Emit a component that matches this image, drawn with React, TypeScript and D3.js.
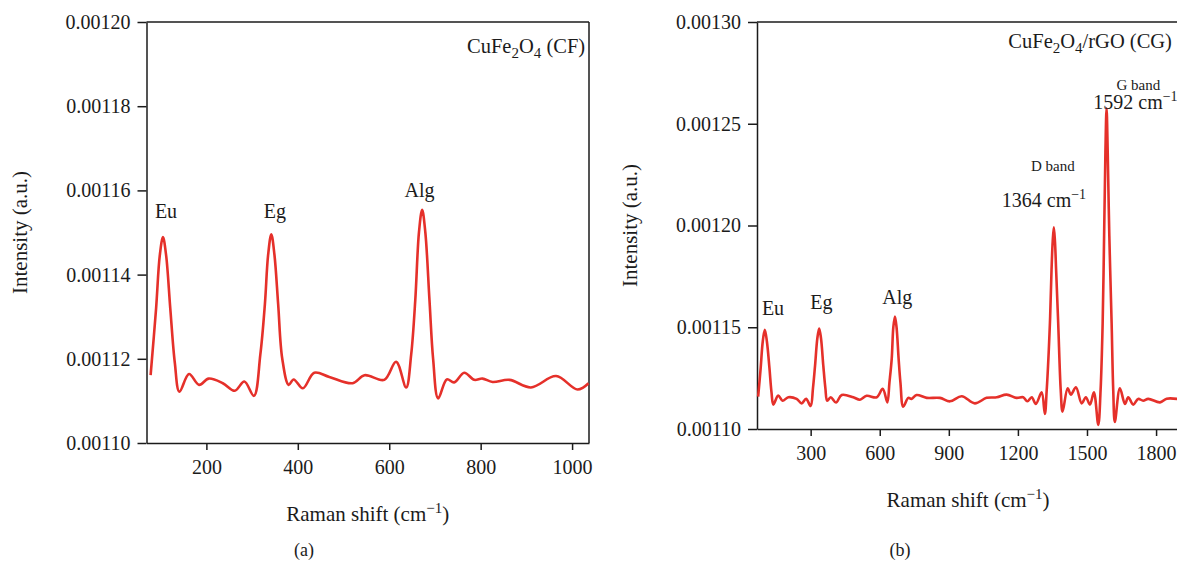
import { useEffect, useRef } from 'react';
import * as d3 from 'd3';

// Raman spectra
// [Raman shift (cm-1), intensity (a.u.)]
const cfSpectrum: [number, number][] = [
  [78, 0.0011161], [90, 0.001132], [98, 0.0011445], [105, 0.0011489], [112, 0.0011445],
  [121, 0.001132], [131, 0.001119], [141, 0.0011122], [162, 0.0011164], [184, 0.0011138],
  [205, 0.0011153], [236, 0.0011142], [262, 0.0011124], [283, 0.0011146], [304, 0.0011112],
  [318, 0.001121], [328, 0.001133], [335, 0.0011446], [342, 0.0011496], [349, 0.0011446],
  [357, 0.001133], [366, 0.00112], [380, 0.0011138], [391, 0.0011151], [411, 0.001113],
  [436, 0.0011167], [469, 0.0011157], [520, 0.0011142], [546, 0.0011161], [589, 0.001115],
  [615, 0.0011193], [637, 0.0011132], [648, 0.001121], [657, 0.001134], [665, 0.00115],
  [672, 0.0011554], [679, 0.00115], [688, 0.001134], [696, 0.00112], [707, 0.0011106],
  [726, 0.0011151], [742, 0.0011144], [764, 0.0011167], [786, 0.001115], [804, 0.0011153],
  [826, 0.0011145], [863, 0.001115], [910, 0.0011132], [965, 0.0011159], [1012, 0.0011127],
  [1036, 0.0011142],
];

const cgSpectrum: [number, number][] = [
  [72, 0.0011159], [83, 0.00113], [92, 0.001143], [101, 0.0011488], [110, 0.001143],
  [121, 0.00113], [130, 0.001118], [138, 0.001112], [159, 0.0011164], [178, 0.0011139],
  [203, 0.0011156], [239, 0.0011148], [261, 0.0011126], [280, 0.0011148], [300, 0.0011113],
  [310, 0.00112], [319, 0.001131], [329, 0.0011445], [337, 0.0011494], [345, 0.0011445],
  [355, 0.001131], [364, 0.00112], [372, 0.0011139], [387, 0.0011156], [410, 0.001113],
  [435, 0.0011167], [485, 0.0011156], [514, 0.0011144], [543, 0.0011163], [587, 0.0011156],
  [613, 0.0011197], [633, 0.0011131], [642, 0.0011227], [652, 0.0011345], [659, 0.00115],
  [666, 0.0011553], [673, 0.00115], [682, 0.0011345], [690, 0.0011227], [702, 0.001111],
  [724, 0.0011153], [738, 0.0011148], [760, 0.0011167], [804, 0.0011153], [861, 0.0011153],
  [905, 0.0011136], [956, 0.0011161], [1013, 0.0011126], [1064, 0.0011153], [1108, 0.0011156],
  [1151, 0.0011169], [1194, 0.0011153], [1223, 0.0011156], [1241, 0.0011136], [1260, 0.0011156],
  [1278, 0.0011123], [1303, 0.001118], [1317, 0.0011074], [1325, 0.001119], [1339, 0.001152],
  [1346, 0.001178], [1351, 0.001192], [1356, 0.0011991], [1361, 0.001192], [1366, 0.001178],
  [1375, 0.001152], [1386, 0.001119], [1394, 0.0011085], [1416, 0.00112], [1430, 0.0011169],
  [1452, 0.0011205], [1477, 0.0011126], [1495, 0.0011156], [1513, 0.001112], [1530, 0.001118],
  [1549, 0.001102], [1559, 0.001119], [1568, 0.001152], [1575, 0.0012], [1580, 0.001236],
  [1585, 0.0012576], [1590, 0.001236], [1597, 0.001195], [1607, 0.001152], [1614, 0.001119],
  [1621, 0.0011035], [1643, 0.00112], [1665, 0.0011123], [1679, 0.0011156], [1701, 0.001112],
  [1722, 0.0011148], [1744, 0.0011139], [1766, 0.0011148], [1817, 0.0011131], [1846, 0.0011149],
  [1892, 0.0011148],
];

const cfXTicks = [200, 400, 600, 800, 1000];
const cfYTicks = [0.0011, 0.00112, 0.00114, 0.00116, 0.00118, 0.0012];
const cgXTicks = [300, 600, 900, 1200, 1500, 1800];
const cgYTicks = [0.0011, 0.00115, 0.0012, 0.00125, 0.0013];

// peak labels, placed in data coordinates
interface Label { text: string; x: number; y: number; small?: boolean; anchor?: string; wave?: boolean }
const cfLabels: Label[] = [
  { text: 'Eu', x: 111.7, y: 0.0011534 },
  { text: 'Eg', x: 349.7, y: 0.0011534 },
  { text: 'Alg', x: 666.4, y: 0.0011585 },
];
const cgLabels: Label[] = [
  { text: 'Eu', x: 136.5, y: 0.001156 },
  { text: 'Eg', x: 347, y: 0.0011588 },
  { text: 'Alg', x: 675.8, y: 0.0011613 },
  { text: 'D band', x: 1351.4, y: 0.0012269, small: true },
  { text: '1364', x: 1313, y: 0.0012089, wave: true },
  { text: 'G band', x: 1722.7, y: 0.0012668, small: true },
  { text: '1592', x: 1527.3, y: 0.0012571, wave: true, anchor: 'start' },
];

const FONT = '"Liberation Serif", "Times New Roman", serif';
const RED = '#e5302a';
const INK = '#1b1b1b';

interface PanelCfg {
  data: [number, number][];
  xDomain: [number, number];
  xRange: [number, number];
  yDomain: [number, number];
  yRange: [number, number];
  xTicks: number[];
  yTicks: number[];
  labels: Label[];
  title: { main: string; x: number; y: number };
  tag: string;
  tagX: number;
}

function drawPanel(svg: d3.Selection<SVGSVGElement, unknown, null, undefined>, cfg: PanelCfg) {
  const x = d3.scaleLinear().domain(cfg.xDomain).range(cfg.xRange);
  const y = d3.scaleLinear().domain(cfg.yDomain).range(cfg.yRange);
  const [left, right] = cfg.xRange;
  const [bottom, top] = cfg.yRange;
  const g = svg.append('g');

  // frame (top + right)
  g.append('line').attr('x1', left).attr('x2', right).attr('y1', top).attr('y2', top)
    .attr('stroke', INK).attr('stroke-width', 1.5);
  g.append('line').attr('x1', right).attr('x2', right).attr('y1', top).attr('y2', bottom)
    .attr('stroke', INK).attr('stroke-width', 1.5);

  const xAxis = g.append('g')
    .attr('transform', `translate(0,${bottom})`)
    .call(d3.axisBottom(x).tickValues(cfg.xTicks).tickSize(7).tickPadding(10).tickSizeOuter(0).tickFormat(d3.format('d')));
  const yAxis = g.append('g')
    .attr('transform', `translate(${left},0)`)
    .call(d3.axisLeft(y).tickValues(cfg.yTicks).tickSize(9).tickPadding(7).tickSizeOuter(0).tickFormat(d3.format('.5f')));

  [xAxis, yAxis].forEach(ax => {
    ax.select('.domain').attr('stroke', INK).attr('stroke-width', 1.5);
    ax.selectAll('.tick line').attr('stroke', INK).attr('stroke-width', 1.5);
    ax.selectAll('.tick text').attr('fill', INK).style('font-family', FONT).style('font-size', '20px');
  });

  // spectrum
  const line = d3.line<[number, number]>()
    .x(d => x(d[0]))
    .y(d => y(d[1]))
    .curve(d3.curveCatmullRom.alpha(0.5));
  g.append('path')
    .datum(cfg.data)
    .attr('d', line)
    .attr('fill', 'none')
    .attr('stroke', RED)
    .attr('stroke-width', 2.6)
    .attr('stroke-linejoin', 'round');

  // peak labels
  cfg.labels.forEach(l => {
    const t = g.append('text')
      .attr('x', x(l.x)).attr('y', y(l.y))
      .attr('text-anchor', l.anchor ?? 'middle')
      .attr('fill', INK)
      .style('font-family', FONT)
      .style('font-size', l.small ? '15px' : '20px');
    if (l.wave) {
      t.append('tspan').text(`${l.text} cm`);
      t.append('tspan').attr('dy', -8).style('font-size', '14px').text('\u22121');
    } else {
      t.text(l.text);
    }
  });

  // sample title with subscripts
  const tt = g.append('text')
    .attr('x', x(cfg.title.x)).attr('y', y(cfg.title.y))
    .attr('text-anchor', 'end')
    .attr('fill', INK)
    .style('font-family', FONT)
    .style('font-size', '20.5px');
  tt.append('tspan').text('CuFe');
  tt.append('tspan').attr('dy', 5).style('font-size', '15px').text('2');
  tt.append('tspan').attr('dy', -5).text('O');
  tt.append('tspan').attr('dy', 5).style('font-size', '15px').text('4');
  tt.append('tspan').attr('dy', -5).text(cfg.title.main);

  // axis titles
  const xt = g.append('text')
    .attr('x', (left + right) / 2).attr('y', bottom + 78)
    .attr('text-anchor', 'middle').attr('fill', INK)
    .style('font-family', FONT).style('font-size', '21px');
  xt.append('tspan').text('Raman shift (cm');
  xt.append('tspan').attr('dy', -8).style('font-size', '15px').text('\u22121');
  xt.append('tspan').attr('dy', 8).text(')');

  g.append('text')
    .attr('transform', `translate(${left - 120},${(top + bottom) / 2}) rotate(-90)`)
    .attr('text-anchor', 'middle').attr('fill', INK)
    .style('font-family', FONT).style('font-size', '21px')
    .text('Intensity (a.u.)');

  g.append('text')
    .attr('x', cfg.tagX).attr('y', 556)
    .attr('text-anchor', 'middle').attr('fill', INK)
    .style('font-family', FONT).style('font-size', '18px')
    .text(cfg.tag);
}

export default function App() {
  const svgRef = useRef<SVGSVGElement>(null);

  useEffect(() => {
    if (!svgRef.current) return;
    const svg = d3.select(svgRef.current);
    svg.selectAll('*').remove();

    drawPanel(svg, {
      data: cfSpectrum,
      xDomain: [69, 1037], xRange: [146.5, 589],
      yDomain: [0.0011, 0.0012], yRange: [443, 22],
      xTicks: cfXTicks, yTicks: cfYTicks,
      labels: cfLabels,
      title: { main: ' (CF)', x: 1028.5, y: 0.0011927 },
      tag: '(a)', tagX: 304,
    });

    drawPanel(svg, {
      data: cgSpectrum,
      xDomain: [67, 1900], xRange: [757, 1179.1],
      yDomain: [0.0011, 0.0013], yRange: [429, 22],
      xTicks: cgXTicks, yTicks: cgYTicks,
      labels: cgLabels,
      title: { main: '/rGO (CG)', x: 1869, y: 0.0012871 },
      tag: '(b)', tagX: 900,
    });
  }, []);

  return (
    <svg
      ref={svgRef}
      width={1177}
      height={565}
      style={{ position: 'absolute', left: 0, top: 0, background: '#fff', display: 'block' }}
    />
  );
}
